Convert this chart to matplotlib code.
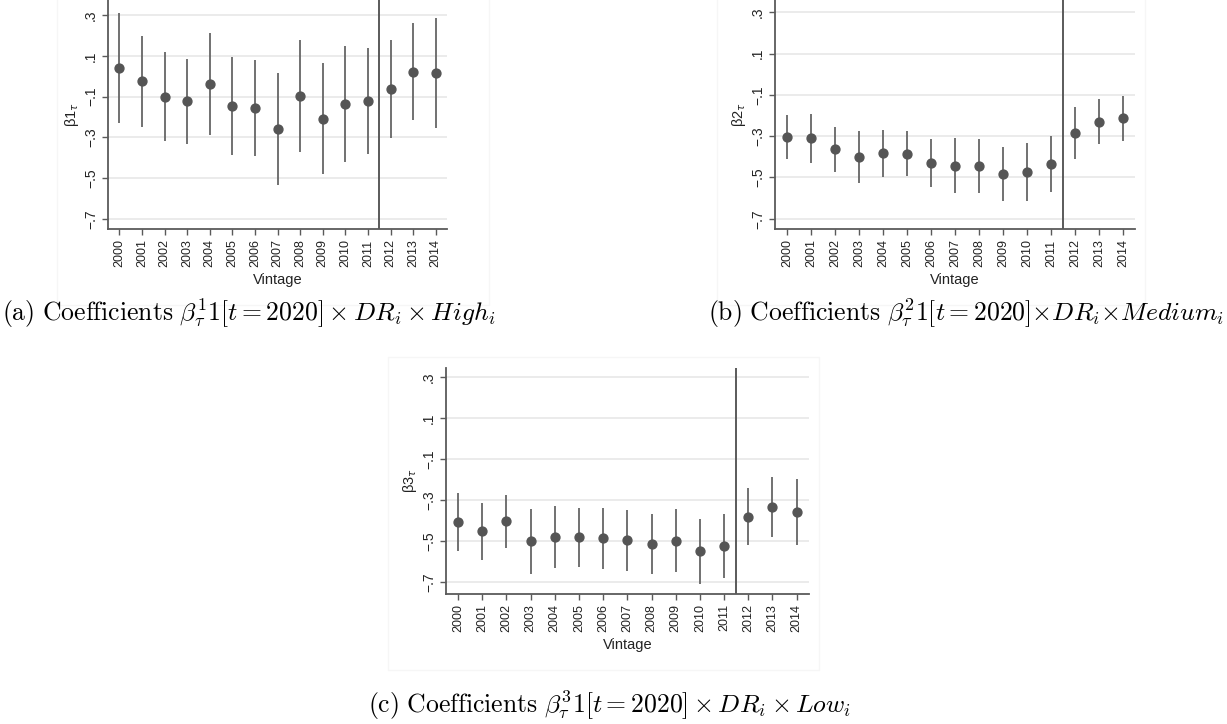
import matplotlib
matplotlib.use("Agg")
import matplotlib.pyplot as plt
from matplotlib.patches import Rectangle

plt.rcParams['font.family'] = ['Liberation Sans', 'DejaVu Sans']

years = list(range(2000, 2015))
year_labels = [str(y) for y in years]
ytick_vals = [0.3, 0.1, -0.1, -0.3, -0.5, -0.7]
ytick_labels = [".3", ".1", "\u2212.1", "\u2212.3", "\u2212.5", "\u2212.7"]

high_coef = [0.043, -0.023, -0.100, -0.123, -0.038, -0.146, -0.154, -0.257,
             -0.097, -0.208, -0.136, -0.121, -0.064, 0.023, 0.015]
high_lo = [-0.228, -0.248, -0.316, -0.333, -0.290, -0.389, -0.390, -0.536,
           -0.372, -0.482, -0.420, -0.382, -0.302, -0.215, -0.256]
high_hi = [0.313, 0.200, 0.118, 0.087, 0.215, 0.097, 0.082, 0.018,
           0.180, 0.066, 0.149, 0.139, 0.177, 0.264, 0.287]

med_coef = [-0.303, -0.309, -0.364, -0.403, -0.383, -0.385, -0.432, -0.442,
            -0.445, -0.485, -0.474, -0.435, -0.286, -0.230, -0.212]
med_lo = [-0.408, -0.429, -0.472, -0.529, -0.498, -0.493, -0.548, -0.574,
          -0.577, -0.616, -0.613, -0.569, -0.412, -0.340, -0.322]
med_hi = [-0.198, -0.193, -0.256, -0.275, -0.269, -0.277, -0.314, -0.309,
          -0.314, -0.354, -0.335, -0.299, -0.160, -0.120, -0.104]

low_coef = [-0.408, -0.454, -0.403, -0.503, -0.481, -0.483, -0.488, -0.498,
            -0.516, -0.500, -0.550, -0.525, -0.382, -0.333, -0.359]
low_lo = [-0.550, -0.592, -0.534, -0.661, -0.633, -0.630, -0.640, -0.646,
          -0.662, -0.654, -0.710, -0.682, -0.521, -0.480, -0.522]
low_hi = [-0.264, -0.315, -0.274, -0.346, -0.330, -0.338, -0.338, -0.349,
          -0.369, -0.346, -0.393, -0.369, -0.243, -0.188, -0.198]

W, H = 1227, 724
fig = plt.figure(figsize=(W / 100, H / 100), dpi=100)

DARK = "#555555"
SPINE = "#5a5a5a"
GRID = "#e8e8e8"


def px_axes(l, t, r, b):
    return [l / W, 1 - b / H, (r - l) / W, (b - t) / H]


def draw_panel(rect, coef, lo, hi, ylim, ylab):
    ax = fig.add_axes(px_axes(*rect))
    for v in ytick_vals:
        ax.axhline(v, color=GRID, lw=1.2, zorder=0)
    ax.vlines(years, lo, hi, color="#666666", lw=1.3, zorder=2)
    ax.plot(years, coef, 'o', color=DARK, ms=6.4, zorder=3, mec=DARK)
    ax.axvline(2011.5, color=SPINE, lw=1.4, zorder=4)
    ax.set_xlim(1999.5, 2014.5)
    ax.set_ylim(*ylim)
    ax.set_xticks(years)
    ax.set_xticklabels(year_labels, rotation=90, fontsize=9, color="#222222")
    ax.set_yticks(ytick_vals)
    ax.set_yticklabels(ytick_labels, rotation=90, fontsize=10, color="#222222",
                       va='center')
    ax.tick_params(axis='both', length=4.3, width=1.0, color=SPINE, pad=3)
    for s in ['top', 'right']:
        ax.spines[s].set_visible(False)
    for s in ['left', 'bottom']:
        ax.spines[s].set_color(SPINE)
        ax.spines[s].set_linewidth(1.3)
    ax.set_xlabel("Vintage", fontsize=10.5, color="#222222", labelpad=4)
    ax.set_ylabel(ylab, fontsize=10.5, color="#222222", labelpad=2,
                  math_fontfamily='dejavusans')
    ax.set_facecolor('none')
    return ax


# faint graph-region frames
for (l, t, r, b) in [(57, -2, 489, 305), (717, -2, 1145, 305), (388, 357, 819, 670)]:
    fig.patches.append(Rectangle((l / W, 1 - b / H), (r - l) / W, (b - t) / H,
                                 transform=fig.transFigure, fill=False,
                                 ec="#f6f6f6", lw=1.0, zorder=0))

draw_panel((108, 0, 447, 229.3), high_coef, high_lo, high_hi, (-0.752, 0.375),
           r"β1$_{\tau}$")
draw_panel((775.3, 0, 1135, 229.3), med_coef, med_lo, med_hi, (-0.751, 0.36),
           r"β2$_{\tau}$")
draw_panel((446, 367.7, 808.7, 594), low_coef, low_lo, low_hi, (-0.76, 0.347),
           r"β3$_{\tau}$")

cap_kw = dict(fontsize=18.5, ha='center', va='center', math_fontfamily='cm',
              family='DejaVu Serif')
fig.text(249 / W, 1 - 313 / H,
         r"$\mathrm{(a)\ Coefficients}\ \beta^{1}_{\tau}1[t=2020]\times DR_i\times High_i$",
         **cap_kw)
fig.text(966 / W, 1 - 313 / H,
         r"$\mathrm{(b)\ Coefficients}\ \beta^{2}_{\tau}1[t=2020]{\times}DR_i{\times}Medium_i$",
         **cap_kw)
fig.text(610 / W, 1 - 705 / H,
         r"$\mathrm{(c)\ Coefficients}\ \beta^{3}_{\tau}1[t=2020]\times DR_i\times Low_i$",
         **cap_kw)

fig.savefig("out.png", dpi=100, facecolor='white')
